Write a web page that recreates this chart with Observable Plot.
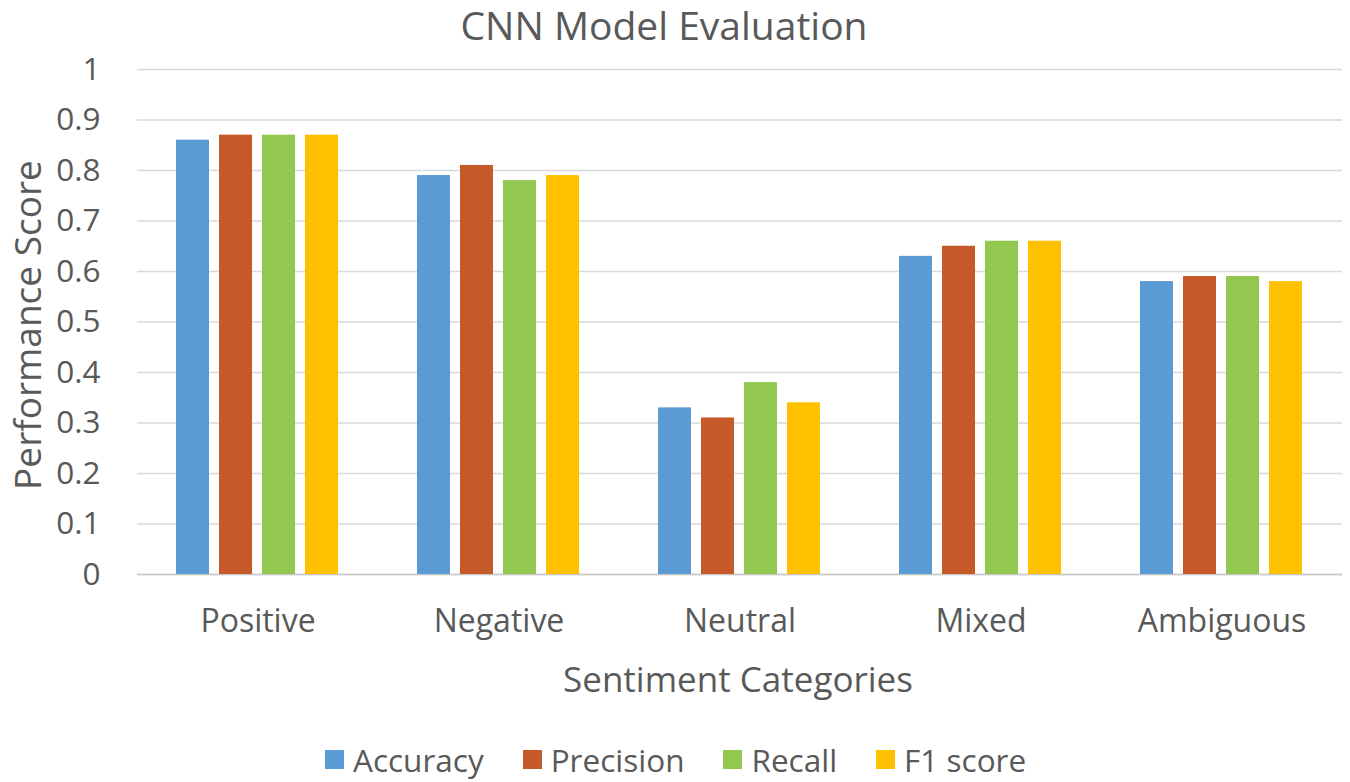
<!DOCTYPE html>
<html>
<head>
<meta charset="utf-8">
<script src="https://cdn.jsdelivr.net/npm/d3@7"></script>
<script src="https://cdn.jsdelivr.net/npm/@observablehq/plot@0.6"></script>
<style>
  html, body { margin: 0; padding: 0; background: #fff; }
  body { width: 1350px; height: 782px; overflow: hidden; font-family: "Open Sans", sans-serif; color: #595959; }
  #wrap { position: relative; width: 1350px; height: 782px; }
  #title { position: absolute; left: 0; top: -2px; width: 1328px; text-align: center; font-size: 39px; line-height: normal; white-space: nowrap; }
  #chart { position: absolute; left: 0; top: 40px; }
  #ylabel { position: absolute; left: 25.5px; top: 325px; transform: translate(-50%, -50%) rotate(-90deg); font-size: 37px; line-height: normal; white-space: nowrap; }
  #xlabel { position: absolute; left: 0; width: 1476px; top: 655px; text-align: center; font-size: 35px; line-height: normal; white-space: nowrap; }
  #legend { position: absolute; left: 325px; top: 738px; display: flex; align-items: center; font-size: 31.5px; line-height: normal; white-space: nowrap; }
  .item { display: flex; align-items: center; margin-right: 39px; }
  .sw { width: 19px; height: 19px; margin-right: 9px; }
</style>
</head>
<body>
<div id="wrap">
  <div id="title">CNN Model Evaluation</div>
  <div id="chart"></div>
  <div id="ylabel">Performance Score</div>
  <div id="xlabel">Sentiment Categories</div>
  <div id="legend"></div>
</div>
<script>
const categories = ["Positive", "Negative", "Neutral", "Mixed", "Ambiguous"];
const series = ["Accuracy", "Precision", "Recall", "F1 score"];
const accuracy  = [0.86, 0.79, 0.33, 0.63, 0.58];
const precision = [0.87, 0.81, 0.31, 0.65, 0.59];
const recall    = [0.87, 0.78, 0.38, 0.66, 0.59];
const f1score   = [0.87, 0.79, 0.34, 0.66, 0.58];
const colors = ["#5B9BD5", "#C55A28", "#92C850", "#FFC000"];
const yTicks = [0, 0.1, 0.2, 0.3, 0.4, 0.5, 0.6, 0.7, 0.8, 0.9, 1];

const seriesValues = [accuracy, precision, recall, f1score];
const data = [];
categories.forEach((c, i) => {
  series.forEach((s, j) => data.push({category: c, series: s, value: seriesValues[j][i]}));
});

const chart = Plot.plot({
  width: 1350,
  height: 680,
  marginLeft: 135,
  marginRight: 6,
  marginTop: 29,
  marginBottom: 146,
  style: {fontFamily: "Open Sans, sans-serif", color: "#595959", background: "#fff", overflow: "visible"},
  fx: {domain: categories, padding: 0},
  x: {domain: series, paddingInner: 0.227, paddingOuter: 0.864, axis: null},
  y: {domain: [0, 1], axis: null},
  color: {domain: series, range: colors},
  marks: [
    Plot.gridY(yTicks, {stroke: "#d9d9d9", strokeOpacity: 1, strokeWidth: 1.5}),
    Plot.ruleY([0], {stroke: "#c8c8c8", strokeWidth: 1.5}),
    Plot.barY(data, {fx: "category", x: "series", y: "value", fill: "series"}),
    Plot.axisY(yTicks, {tickSize: 0, tickPadding: 37, fontSize: 31.5, tickFormat: d => String(d), label: null, fill: "#595959"}),
    Plot.axisFx({anchor: "bottom", tickSize: 0, tickPadding: 35, fontSize: 32, label: null, fill: "#595959"})
  ]
});
document.getElementById("chart").appendChild(chart);

const legend = document.getElementById("legend");
series.forEach((s, j) => {
  const item = document.createElement("div");
  item.className = "item";
  const sw = document.createElement("div");
  sw.className = "sw";
  sw.style.background = colors[j];
  const t = document.createElement("span");
  t.textContent = s;
  item.appendChild(sw);
  item.appendChild(t);
  legend.appendChild(item);
});
</script>
</body>
</html>
